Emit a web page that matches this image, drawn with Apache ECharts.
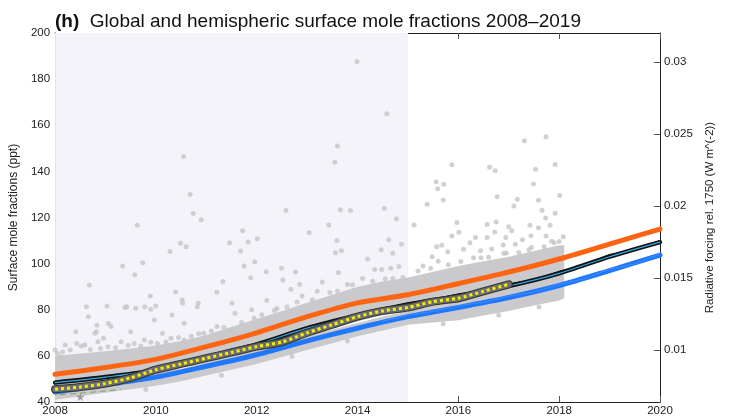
<!DOCTYPE html>
<html>
<head>
<meta charset="utf-8">
<script src="https://cdn.jsdelivr.net/npm/echarts@6/dist/echarts.min.js"></script>
<style>html,body{margin:0;padding:0;background:#fff}#c{width:740px;height:420px}</style>
</head>
<body>
<div id="c"></div>
<script>
// ---- data ----
const years = [2008, 2009, 2010, 2011, 2012, 2013, 2014, 2015, 2016, 2017, 2018, 2019, 2020];
const nhModel = [52, 55, 58.5, 64, 70, 77, 83, 86.5, 91.3, 96.3, 102, 108.5, 115];
const globalModel = [48.4, 50.8, 53.8, 59.5, 65, 72, 77.5, 82.3, 86, 90.3, 95.8, 103, 109.3];
const shModel = [44.3, 47.5, 50.8, 55.5, 60.5, 66.5, 72, 77, 81, 85.3, 90.5, 97, 103.7];

const thinYears = [2014.5, 2015, 2015.5, 2016, 2016.5, 2017, 2017.5, 2018, 2018.5, 2019, 2019.5, 2020];
const nhThin = [85.3, 87.3, 89.6, 92.2, 93.8, 97.4, 99.3, 102.9, 105.5, 109.4, 111.8, 115.8];
const globalThin = [80.3, 83, 84.4, 86.9, 88.4, 91.2, 93.1, 96.7, 99.4, 104, 105.8, 110];
const shThin = [75, 77.8, 79.3, 81.8, 83.3, 85.9, 87.6, 91, 93.5, 97.6, 99.9, 104.2];

const obsYears = [2008, 2008.5, 2009, 2009.5, 2010, 2010.5, 2011, 2011.5, 2012, 2012.5, 2013, 2013.5, 2014, 2014.5, 2015, 2015.5, 2016, 2016.5, 2017];
const obsGlobal = [45.5, 46.5, 48, 50.5, 54, 56.5, 59, 61.5, 64, 66, 70, 73.5, 77, 79.5, 81, 83.5, 85, 88, 91];

const whiteYears = [2010.5, 2011, 2011.5, 2012, 2012.5, 2013, 2013.5, 2014, 2014.5, 2015];
const whiteLine = [54.8, 57.6, 60.3, 62.8, 65.6, 68.8, 71.8, 74.6, 77.4, 79.6];

const greenYears = [2008.1, 2008.5, 2008.9, 2009.3];
const greenLine = [43.2, 43.8, 44.6, 45.5];
const starPoint = [2008.5, 42.3];

const bandYears = [2008, 2008.5, 2009, 2009.5, 2010, 2010.5, 2011, 2011.5, 2012, 2012.5, 2013, 2013.5, 2014, 2014.5, 2015, 2015.5, 2016, 2016.5, 2017, 2017.5, 2018, 2018.1];
const bandLow = [41, 42.5, 44, 45.5, 47, 49, 51.5, 54, 56.5, 59.5, 62.5, 65.5, 68.5, 71, 73.5, 74.5, 75.5, 77.5, 79.5, 81.8, 84, 85];
const bandHigh = [60, 61, 62, 63.2, 64.5, 66.5, 69, 72.5, 76, 79.5, 83, 86.5, 90, 92.2, 94, 96.5, 99, 101, 103, 105.5, 108, 108];

const samplePoints = [
  [2013.99, 187.6], [2014.58, 165], [2013.6, 151], [2013.55, 144], [2010.55, 146.5], [2010.68, 130],
  [2010.74, 121.7], [2012.58, 123], [2013.66, 123.4], [2013.86, 123], [2014.53, 124], [2014.77, 119.5],
  [2010.9, 119], [2009.63, 116.6], [2013.43, 116.8], [2013.04, 113.4], [2011.72, 114.3], [2012.01, 110.8],
  [2011.83, 109.4], [2011.46, 109.1], [2010.49, 108.8], [2010.6, 107.3], [2010.28, 105.3], [2011.68, 105.5],
  [2013.59, 110], [2013.56, 104.7], [2013.68, 105.6], [2014.62, 110.3], [2014.87, 108.4], [2014.7, 104.5],
  [2014.47, 106], [2009.74, 100.4], [2009.34, 99], [2009.58, 95.2], [2011.96, 100.8], [2011.75, 99],
  [2012.49, 98], [2012.19, 96.5], [2012.77, 96.4], [2013.62, 96.1], [2014.2, 102], [2014.34, 97.5],
  [2014.48, 97.5], [2014.66, 98], [2014.82, 98.7], [2008.68, 90.7], [2011.33, 92.2], [2011.88, 93.9],
  [2012.52, 92.9], [2012.68, 88.9], [2012.85, 91], [2010.39, 87.7], [2011.21, 87.6], [2009.89, 86],
  [2009.42, 81.3], [2009.6, 80.6], [2009.9, 80.2], [2010, 81.6], [2008.62, 81.3], [2008.66, 77],
  [2010.52, 84.2], [2010.53, 82.8], [2010.32, 77.7], [2010.84, 82.8], [2008.83, 73.3], [2009.06, 74],
  [2008.82, 70.5], [2008.41, 70.5], [2008.52, 64.3], [2008.96, 67.6], [2009.03, 81.6], [2009.39, 81],
  [2009.78, 81.3], [2008.79, 69.8], [2009.11, 72.7], [2009.5, 70.5], [2009.97, 75.6], [2010.13, 69.8],
  [2010.56, 74.1], [2010.82, 81.3], [2011.51, 82.8], [2011.57, 78.5], [2008, 62.5], [2008.2, 64.7],
  [2008.43, 65.4], [2008.59, 64.7], [2008.85, 66.1], [2009.05, 64], [2009.31, 66.1], [2009.57, 65.4],
  [2009.77, 66.9], [2010.03, 65.4], [2010.3, 67.6], [2010.56, 66.9], [2010.95, 69.8], [2011.21, 72.7],
  [2011.48, 71.2], [2008.05, 61], [2008.1, 59.5], [2011.9, 80], [2012.2, 84], [2012.4, 80.5],
  [2012.9, 86], [2013.2, 88], [2013.3, 92], [2013.8, 91], [2014.1, 93.5], [2014.9, 94],
  [2008.3, 62.5], [2008.7, 62.8], [2009.2, 63.5], [2009.7, 64.3], [2010.2, 66], [2010.7, 68.5],
  [2011.1, 70.8], [2011.7, 74.5], [2012.1, 77.8], [2012.6, 81.2], [2013.1, 84.3], [2013.6, 88],
  [2014.3, 92.4], [2014.7, 93.6], [2015.2, 96.8], [2015.8, 99.5], [2016.6, 102.8], [2017.2, 104.8],
  [2017.7, 107.3], [2018.0, 109.6],
  [2008.15, 61.7], [2008.9, 63.2], [2009.45, 64.6], [2009.9, 65.9], [2010.45, 68], [2010.85, 69.6],
  [2011.35, 72.3], [2011.95, 76.4], [2012.35, 79.7], [2012.8, 83.4], [2013.45, 87.5], [2013.9, 90.8],
  [2014.55, 93.4], [2015.45, 98], [2016.05, 100.9], [2016.45, 102.6], [2016.95, 104.6], [2017.45, 107],
  [2017.85, 109.7], [2009.8, 45.4], [2011.3, 51.6], [2012.7, 59.7], [2013.8, 66.4], [2015.7, 73.9],
  [2016.8, 77.6], [2017.6, 81.2]
  ,
  [2017.74, 155], [2017.31, 153.3], [2017.92, 143], [2015.87, 142.9], [2016.62, 141.8], [2016.73, 140.3],
  [2017.53, 140.9], [2015.56, 135.5], [2015.71, 134.4], [2015.59, 132.5], [2017.49, 134.5], [2015.7, 127.6],
  [2015.38, 125.7], [2016.77, 129], [2017.17, 127.9], [2017.1, 125], [2017.59, 127.5], [2018.01, 129.5],
  [2017.66, 123.1], [2017.92, 121.8], [2017.73, 119.8], [2015.12, 116.8], [2015.97, 117.8], [2016.57, 117],
  [2016.75, 118], [2017, 116], [2017.42, 116.6], [2017.59, 115.6], [2017.82, 116.6], [2015.87, 112],
  [2016.01, 113.6], [2016.34, 111.3], [2016.57, 111.3], [2016.72, 113.7], [2016.94, 111.3], [2017.06, 114.3],
  [2017.27, 110.3], [2017.44, 112.1], [2017.74, 112], [2018.08, 111.7], [2015.57, 107.3], [2015.67, 108],
  [2015.79, 105.2], [2016.1, 106.2], [2016.23, 109.1], [2016.44, 105.6], [2016.66, 106.3], [2016.89, 108.1],
  [2017.13, 108.4], [2015.48, 103], [2015.3, 99], [2015.6, 101], [2016.3, 102.5], [2016.9, 104.5],
  [2017.4, 106], [2017.9, 109], [2018.05, 106]
];

const forcingTicks = [0.01, 0.015, 0.02, 0.025, 0.03];
const forcingPerPpt = 0.00016;

// ---- build ----
const zip = (xs, ys) => xs.map((x, i) => [x, ys[i]]);
const FONT = 'Liberation Sans';
const chart = echarts.init(document.getElementById('c'), null, {renderer: 'canvas'});

const line = (name, xs, ys, color, width, z, extra) => Object.assign({
  name, type: 'line', data: zip(xs, ys), showSymbol: false, symbol: 'none', z,
  smooth: 0.25, lineStyle: {color, width, cap: 'round', join: 'round'}, silent: true,
  animation: false
}, extra || {});

chart.setOption({
  animation: false,
  backgroundColor: '#ffffff',
  title: {
    text: '{b|(h)}  Global and hemispheric surface mole fractions 2008–2019',
    left: 50, top: 7,
    textStyle: {
      fontFamily: FONT, fontSize: 19, fontWeight: 'normal', color: '#111',
      rich: {b: {fontFamily: FONT, fontSize: 19, fontWeight: 'bold', color: '#111'}}
    }
  },
  grid: {left: 50, right: 80, top: 33, bottom: 18, containLabel: false},
  xAxis: [{
    type: 'value', min: 2008, max: 2020, interval: 2, position: 'bottom',
    axisLine: {show: true, lineStyle: {color: '#222', width: 1}},
    axisTick: {show: true, inside: true, length: 6, lineStyle: {color: '#555'}},
    axisLabel: {fontFamily: FONT, fontSize: 11.5, color: '#222', margin: 3, formatter: v => String(v)},
    splitLine: {show: false}
  }, {
    type: 'value', min: 2008, max: 2020, interval: 2, position: 'top',
    axisLine: {show: true, lineStyle: {color: '#222', width: 1}},
    axisTick: {show: true, inside: true, length: 6, lineStyle: {color: '#555'}},
    axisLabel: {show: false}, splitLine: {show: false}
  }],
  yAxis: [{
    type: 'value', min: 40, max: 200, interval: 20, position: 'left',
    name: 'Surface mole fractions (ppt)', nameLocation: 'middle', nameGap: 27,
    nameTextStyle: {fontFamily: FONT, fontSize: 12, color: '#222'},
    axisLine: {show: true, lineStyle: {color: '#222', width: 1}},
    axisTick: {show: true, inside: true, length: 6, lineStyle: {color: '#555'}},
    axisLabel: {fontFamily: FONT, fontSize: 11.5, color: '#222', margin: 5},
    splitLine: {show: false}
  }, {
    type: 'value', min: 40 * forcingPerPpt, max: 200 * forcingPerPpt, position: 'right',
    name: 'Radiative forcing rel. 1750 (W m^(-2))', nameLocation: 'middle', nameGap: 44, nameRotate: 90,
    nameTextStyle: {fontFamily: FONT, fontSize: 11.5, color: '#222'},
    axisLine: {show: true, lineStyle: {color: '#222', width: 1}},
    axisTick: {show: true, inside: true, length: 6, lineStyle: {color: '#555'}, customValues: forcingTicks},
    axisLabel: {fontFamily: FONT, fontSize: 11.5, color: '#222', margin: 4, customValues: forcingTicks,
      formatter: v => String(+v.toFixed(4))},
    splitLine: {show: false}
  }],
  series: [
    {
      name: 'shade', type: 'line', data: [[2008, 40], [2015, 40]], symbol: 'none', z: 0,
      lineStyle: {opacity: 0}, silent: true,
      markArea: {silent: true, itemStyle: {color: '#f4f3f9'}, data: [[{xAxis: 2008}, {xAxis: 2015}]]}
    },
    {
      name: 'band', type: 'custom', z: 1, silent: true, data: [[2013, 70]],
      renderItem: function (params, api) {
        const top = bandYears.map((x, i) => api.coord([x, bandHigh[i]]));
        const bot = bandYears.map((x, i) => api.coord([x, bandLow[i]])).reverse();
        return {type: 'polygon', shape: {points: top.concat(bot)}, style: {fill: '#cacacc'}};
      }
    },
    {
      name: 'samples', type: 'scatter', data: samplePoints, symbol: 'circle', symbolSize: 5, z: 2,
      itemStyle: {color: '#c6c6c8'}, silent: true
    },
    line('nhThin', thinYears, nhThin, '#ff7a2a', 1, 3, {smooth: 0}),
    line('nh', years, nhModel, '#ff6412', 5, 4),
    line('white', whiteYears, whiteLine, '#ffffff', 1.6, 4),
    line('sh', years, shModel, '#1f78ff', 5, 4),
    line('shThin', thinYears, shThin, '#3f8cff', 1, 5, {smooth: 0}),
    line('global', years, globalModel, '#111111', 4.5, 5),
    line('globalThin', thinYears, globalThin, '#111111', 1, 6, {smooth: 0}),
    line('globalCyan', years, globalModel, '#35a9e6', 1.2, 6),
    line('obsEdge', obsYears, obsGlobal, '#333333', 8, 7),
    line('obsGrey', obsYears, obsGlobal, '#6f6f6f', 6, 8),
    line('obsYellow', obsYears, obsGlobal, '#f2f000', 3, 9, {lineStyle: {color: '#f2f000', width: 3, type: [3, 3], cap: 'butt'}}),
    line('green', greenYears, greenLine, '#7da35f', 1, 9, {smooth: 0, lineStyle: {color: '#7da35f', width: 1, type: [6, 4]}}),
    {
      name: 'star', type: 'scatter', data: [starPoint], z: 10, silent: true, symbolSize: 9,
      symbol: 'path://M50,0 L61,35 L98,35 L68,57 L79,91 L50,70 L21,91 L32,57 L2,35 L39,35 Z',
      itemStyle: {color: '#8a8a8a'}
    }
  ]
});
</script>
</body>
</html>
